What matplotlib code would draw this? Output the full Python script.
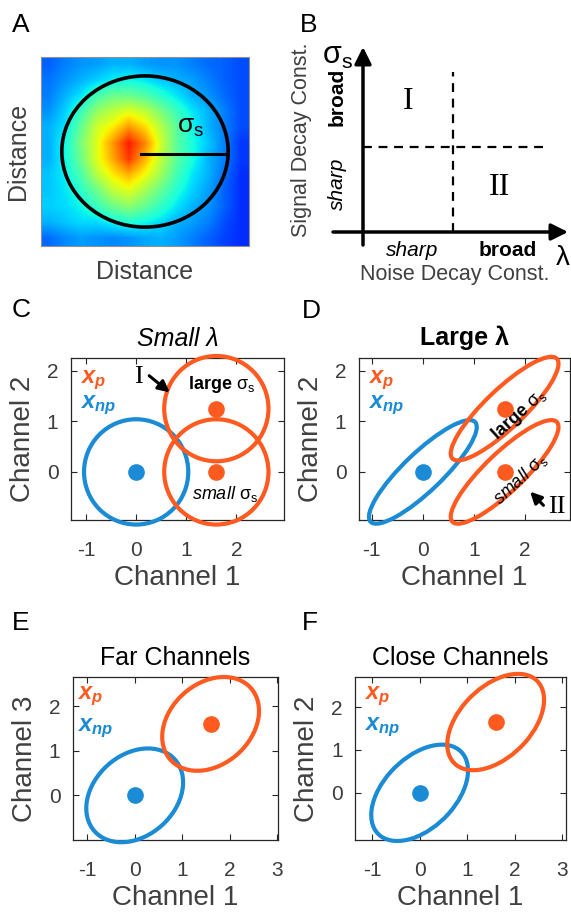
import matplotlib
matplotlib.use('Agg')
import matplotlib.pyplot as plt
import numpy as np
from matplotlib.patches import Ellipse

plt.rcParams['font.family'] = ['Liberation Sans', 'DejaVu Sans']
plt.rcParams['axes.unicode_minus'] = False
plt.rcParams['mathtext.fontset'] = 'custom'
plt.rcParams['mathtext.rm'] = 'Liberation Sans'
plt.rcParams['mathtext.it'] = 'Liberation Sans:italic'
plt.rcParams['mathtext.bf'] = 'Liberation Sans:italic:bold'
plt.rcParams['mathtext.sf'] = 'Liberation Sans:bold'

W, H = 571, 913
ORANGE = '#FF5A1F'
BLUE = '#1A8BD4'
GRAY = '#404040'
FRAME = '#262626'

# ---- A: receptive field map (normalised, rows top -> bottom) ----
heat = np.array([
    [0.22, 0.25, 0.27, 0.28, 0.30, 0.30, 0.28, 0.27, 0.27, 0.25, 0.23, 0.22, 0.20],
    [0.24, 0.27, 0.30, 0.33, 0.36, 0.37, 0.35, 0.32, 0.30, 0.28, 0.25, 0.22, 0.20],
    [0.25, 0.30, 0.35, 0.43, 0.48, 0.48, 0.45, 0.40, 0.35, 0.30, 0.27, 0.23, 0.20],
    [0.27, 0.33, 0.42, 0.53, 0.58, 0.62, 0.58, 0.50, 0.42, 0.35, 0.30, 0.25, 0.20],
    [0.30, 0.35, 0.47, 0.60, 0.66, 0.75, 0.68, 0.57, 0.46, 0.37, 0.30, 0.25, 0.20],
    [0.30, 0.37, 0.50, 0.62, 0.75, 0.88, 0.77, 0.60, 0.46, 0.38, 0.32, 0.25, 0.18],
    [0.30, 0.37, 0.48, 0.62, 0.73, 0.85, 0.72, 0.58, 0.46, 0.38, 0.30, 0.25, 0.18],
    [0.32, 0.36, 0.44, 0.57, 0.66, 0.72, 0.64, 0.54, 0.43, 0.35, 0.30, 0.23, 0.17],
    [0.32, 0.35, 0.40, 0.48, 0.58, 0.62, 0.55, 0.47, 0.39, 0.33, 0.28, 0.22, 0.17],
    [0.33, 0.34, 0.37, 0.42, 0.48, 0.52, 0.47, 0.41, 0.35, 0.30, 0.27, 0.22, 0.17],
    [0.30, 0.32, 0.34, 0.34, 0.37, 0.39, 0.37, 0.34, 0.30, 0.28, 0.25, 0.20, 0.17],
    [0.23, 0.26, 0.28, 0.27, 0.26, 0.27, 0.29, 0.30, 0.28, 0.25, 0.22, 0.19, 0.17],
])
rf_center = (0.50, 0.50)
rf_radius = 0.40
rf_peak = (0.48, 0.513)

# ---- B: regime diagram (thresholds on the two decay constants) ----
lam_thr = 0.45
sig_thr = 0.425

# ---- C-F: class means and covariance ellipses (semi-axis a, semi-axis b, angle) ----
np_center = (0.0, 0.0)
c_p_x = [1.6, 1.6]
c_p_y = [1.25, 0.0]
c_shape = (1.04, 1.04, 0)
d_p_x = [1.6, 1.6]
d_p_y = [1.25, 0.0]
d_shape = (1.42, 0.38, 44)
e_p_center = (1.6, 1.6)
e_shape = (1.17, 0.88, 48)
f_p_center = (1.6, 1.65)
f_shape = (1.30, 0.78, 51)

ticks_cd = [-1, 0, 1, 2]
ticks_ef = [-1, 0, 1, 2, 3]
yticks = [0, 1, 2]

fig = plt.figure(figsize=(W / 100, H / 100), dpi=100)


def add_px_axes(x0, y0, x1, y1):
    return fig.add_axes([x0 / W, 1 - y1 / H, (x1 - x0) / W, (y1 - y0) / H])


def panel_letter(x, y, s):
    fig.text(x / W, 1 - y / H, s, fontsize=19, ha='left', va='baseline')


# ============================================================
# A
# ============================================================
axA = add_px_axes(41, 57, 249, 246)
axA.imshow(heat, cmap='jet', vmin=0, vmax=1, interpolation='bilinear',
           extent=(0, 1, 1, 0), aspect='auto')
axA.add_patch(Ellipse(rf_center, 2 * rf_radius, 2 * rf_radius, fill=False,
                      ec='k', lw=2.6))
x_end = rf_center[0] + np.sqrt(rf_radius ** 2 - (rf_peak[1] - rf_center[1]) ** 2)
axA.plot([rf_peak[0], x_end], [rf_peak[1], rf_peak[1]], color='k', lw=2.2)
axA.text(0.72, 0.37, r'$\mathrm{\sigma_s}$', fontsize=19, ha='center', va='center')
axA.set_xlim(0, 1)
axA.set_ylim(1, 0)
axA.set_xticks([])
axA.set_yticks([])
for sp in axA.spines.values():
    sp.set_color('#909090')
    sp.set_linewidth(0.8)
axA.set_xlabel('Distance', fontsize=18, color=GRAY, labelpad=10)
axA.set_ylabel('Distance', fontsize=18, color=GRAY, labelpad=8)

# ============================================================
# B
# ============================================================
axB = add_px_axes(290, 0, 571, 290)
axB.set_xlim(-0.365, 1.04)
axB.set_ylim(-0.29, 1.16)
axB.axis('off')
arrow_kw = dict(arrowstyle='-|>', lw=2.5, color='k', mutation_scale=25,
                shrinkA=0, shrinkB=0)
axB.annotate('', xy=(1.025, 0), xytext=(-0.15, 0), arrowprops=arrow_kw)
axB.annotate('', xy=(0, 0.925), xytext=(0, -0.065), arrowprops=arrow_kw)
axB.plot([lam_thr, lam_thr], [0, 0.80], color='k', lw=1.6, ls=(0, (4, 3)))
axB.plot([0, 0.92], [sig_thr, sig_thr], color='k', lw=1.6, ls=(0, (4, 3)))
axB.text(0.225, 0.655, 'I', family='Liberation Serif', fontsize=23,
         ha='center', va='center')
axB.text(0.685, 0.225, 'II', family='Liberation Serif', fontsize=23,
         ha='center', va='center')
axB.text(-0.13, 0.88, r'$\mathrm{\sigma_s}$', fontsize=22, ha='center', va='center')
axB.text(1.0, -0.13, 'λ', fontsize=20, ha='center', va='center')
axB.text(0.245, -0.09, 'sharp', fontsize=15, style='italic', ha='center', va='center')
axB.text(0.725, -0.09, 'broad', fontsize=15, weight='bold', ha='center', va='center')
axB.text(0.46, -0.21, 'Noise Decay Const.', fontsize=15.5, color=GRAY,
         ha='center', va='center')
axB.text(-0.305, 0.46, 'Signal Decay Const.', fontsize=15.5, color=GRAY,
         rotation=90, ha='center', va='center')
axB.text(-0.13, 0.675, 'broad', fontsize=15, weight='bold', rotation=90,
         ha='center', va='center')
axB.text(-0.13, 0.24, 'sharp', fontsize=15, style='italic', rotation=90,
         ha='center', va='center')


# ============================================================
# C-F helpers
# ============================================================
def style_axes(ax, xlim, ylim, xt, xlabel, ylabel, title, title_kw):
    ax.set_xlim(*xlim)
    ax.set_ylim(*ylim)
    ax.set_xticks(xt)
    ax.set_yticks(yticks)
    ax.tick_params(direction='in', top=True, right=True, length=4, width=0.8,
                   color=FRAME, labelcolor='#3c3c3c', labelsize=15)
    ax.tick_params(axis='x', pad=15)
    ax.tick_params(axis='y', pad=9)
    for sp in ax.spines.values():
        sp.set_color(FRAME)
        sp.set_linewidth(0.9)
    ax.set_xlabel(xlabel, fontsize=20, color=GRAY, labelpad=4)
    ax.set_ylabel(ylabel, fontsize=20, color=GRAY, labelpad=8)
    ax.set_title(title, fontsize=18, pad=9, **title_kw)


def class_ellipse(ax, center, shape, color):
    a, b, ang = shape
    ax.add_patch(Ellipse(center, 2 * a, 2 * b, angle=ang, fill=False, ec=color,
                         lw=3.0, clip_on=False, zorder=3))
    ax.plot(center[0], center[1], 'o', color=color, ms=12, mec='none',
            clip_on=False, zorder=4)


def class_labels(ax, x, y_p, y_np):
    ax.text(x, y_p, r'$\mathbf{x_p}$', fontsize=17, color=ORANGE, va='baseline')
    ax.text(x, y_np, r'$\mathbf{x_{np}}$', fontsize=17, color=BLUE, va='baseline')


# ============================================================
# C
# ============================================================
axC = add_px_axes(71, 358, 284, 520)
class_ellipse(axC, np_center, c_shape, BLUE)
for px, py in zip(c_p_x, c_p_y):
    class_ellipse(axC, (px, py), c_shape, ORANGE)
class_labels(axC, -1.12, 1.75, 1.27)
axC.text(0.04, 1.88, 'I', family='Liberation Serif', fontsize=19,
         ha='center', va='center')
axC.annotate('', xy=(0.67, 1.57), xytext=(0.26, 1.9),
             arrowprops=dict(arrowstyle='-|>', lw=2.2, color='k', mutation_scale=17,
                             shrinkA=0, shrinkB=0))
axC.text(1.70, 1.72, r'$\mathsf{large}\ \mathrm{\sigma_s}$', fontsize=13,
         ha='center', va='center')
axC.text(1.77, -0.43, r'$\mathit{small}\ \mathrm{\sigma_s}$', fontsize=13,
         ha='center', va='center')
style_axes(axC, (-1.3, 2.95), (-0.95, 2.25), ticks_cd, 'Channel 1', 'Channel 2',
           'Small λ', dict(style='italic'))
panel_letter(12, 317, 'C')

# ============================================================
# D
# ============================================================
axD = add_px_axes(359, 358, 570, 520)
class_ellipse(axD, np_center, d_shape, BLUE)
for px, py in zip(d_p_x, d_p_y):
    class_ellipse(axD, (px, py), d_shape, ORANGE)
class_labels(axD, -1.08, 1.76, 1.27)
axD.text(1.88, 1.12, r'$\mathsf{large}\ \mathrm{\sigma_s}$', fontsize=13,
         rotation=42, rotation_mode='anchor', ha='center', va='center')
axD.text(1.90, -0.14, r'$\mathit{small}\ \mathrm{\sigma_s}$', fontsize=13,
         rotation=43, rotation_mode='anchor', ha='center', va='center')
axD.annotate('', xy=(2.1, -0.39), xytext=(2.36, -0.66),
             arrowprops=dict(arrowstyle='-|>', lw=2.2, color='k', mutation_scale=17,
                             shrinkA=0, shrinkB=0))
axD.text(2.62, -0.69, 'II', family='Liberation Serif', fontsize=19,
         ha='center', va='center')
style_axes(axD, (-1.25, 2.88), (-0.95, 2.25), ticks_cd, 'Channel 1', 'Channel 2',
           'Large λ', dict(weight='bold'))
panel_letter(302, 318, 'D')

# ============================================================
# E
# ============================================================
axE = add_px_axes(73, 677, 278, 840)
class_ellipse(axE, np_center, e_shape, BLUE)
class_ellipse(axE, e_p_center, e_shape, ORANGE)
class_labels(axE, -1.22, 2.15, 1.43)
style_axes(axE, (-1.3, 3.02), (-1.0, 2.65), ticks_ef, 'Channel 1', 'Channel 3',
           'Far Channels', {})
panel_letter(12, 630, 'E')

# ============================================================
# F
# ============================================================
axF = add_px_axes(355, 677, 566, 840)
class_ellipse(axF, np_center, f_shape, BLUE)
class_ellipse(axF, f_p_center, f_shape, ORANGE)
class_labels(axF, -1.17, 2.18, 1.46)
style_axes(axF, (-1.36, 3.08), (-1.1, 2.7), ticks_ef, 'Channel 1', 'Channel 2',
           'Close Channels', {})
panel_letter(302, 630, 'F')

panel_letter(12, 32, 'A')
panel_letter(300, 32, 'B')

fig.savefig('out.png', dpi=100)
